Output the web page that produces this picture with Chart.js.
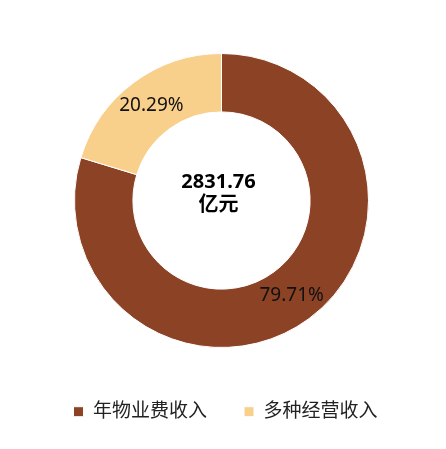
<!DOCTYPE html>
<html>
<head>
<meta charset="utf-8">
<script src="https://cdn.jsdelivr.net/npm/chart.js@4/dist/chart.umd.min.js"></script>
<style>
  html, body { margin: 0; padding: 0; background: #fff; }
  #wrap { width: 446px; height: 449px; }
</style>
</head>
<body>
<div id="wrap"><canvas id="incomeChart" width="446" height="449"></canvas></div>
<script>
// data
const categories = ["年物业费收入", "多种经营收入"];
const shares = [79.71, 20.29];
const colors = ["#8C4225", "#F8D08B"];
const totalText = "2831.76";
const unitText = "亿元";

const FONT = '"Noto Sans", "Noto Sans CJK SC", sans-serif';

// legend sits lower (and a touch right) compared to chart.js defaults
const legendPlace = {
    id: "legendPlace",
    beforeInit(chart) {
        const fit = chart.legend.fit;
        chart.legend.fit = function() {
            fit.call(this);
            this.height = 102;
        };
    },
    afterLayout(chart) {
        chart.legend.left += 4;
        chart.legend.right += 4;
    }
};

// percentage on each slice + total in the hole
const sliceLabels = {
    id: "sliceLabels",
    afterDatasetsDraw(chart) {
        const ctx = chart.ctx;
        const meta = chart.getDatasetMeta(0);
        ctx.save();
        ctx.textAlign = "center";
        ctx.textBaseline = "middle";
        ctx.fillStyle = "#111";
        ctx.font = "19px " + FONT;
        meta.data.forEach((arc, i) => {
            const p = arc.tooltipPosition();
            ctx.fillText(shares[i].toFixed(2) + "%", p.x, p.y);
        });
        const c = meta.data[0];
        ctx.font = "bold 20px " + FONT;
        ctx.fillStyle = "#000";
        ctx.fillText(totalText, c.x - 3, c.y - 18);
        ctx.fillText(unitText, c.x - 3, c.y + 5);
        ctx.restore();
    }
};

const ctx = document.getElementById("incomeChart").getContext("2d");
const chart = new Chart(ctx, {
    type: "doughnut",
    data: {
        labels: categories,
        datasets: [{
            data: shares,
            backgroundColor: colors,
            borderColor: "#fff",
            borderWidth: 1,
            hoverOffset: 0
        }]
    },
    options: {
        responsive: false,
        animation: false,
        events: [],
        radius: 147,
        cutout: 88,
        layout: { padding: { top: 54, bottom: 0, left: 0, right: 3 } },
        plugins: {
            tooltip: { enabled: false },
            legend: {
                position: "bottom",
                title: { display: true, text: "", font: { size: 1 }, padding: { top: 17, bottom: 0 } },
                labels: {
                    boxWidth: 10,
                    boxHeight: 10,
                    padding: 37,
                    color: "#222",
                    font: { size: 19, family: FONT }
                }
            }
        }
    },
    plugins: [legendPlace, sliceLabels]
});
</script>
</body>
</html>
